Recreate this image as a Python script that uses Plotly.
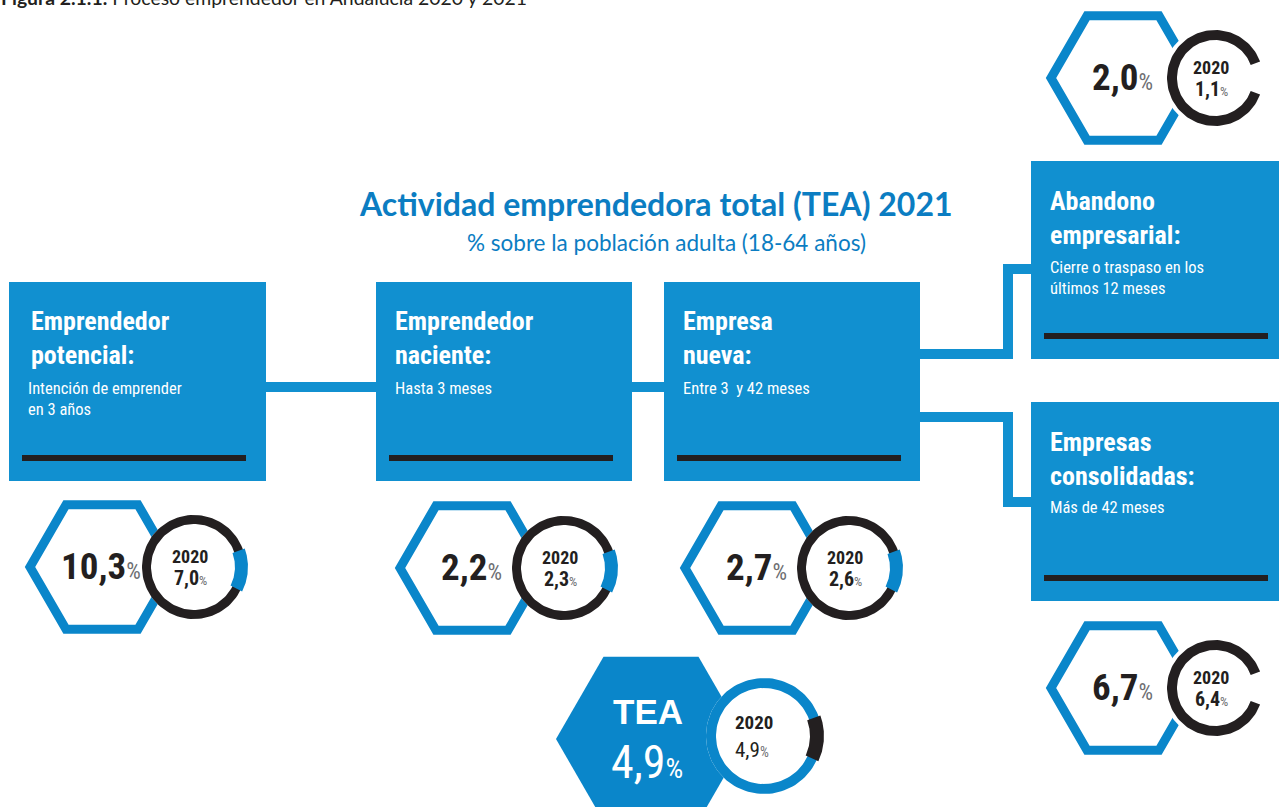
import numpy as np
import plotly.graph_objects as go

# Proceso emprendedor en Andalucía, % sobre la población adulta (18-64 años)
etapas = ["Emprendedor<br>potencial:", "Emprendedor<br>naciente:", "Empresa<br>nueva:",
          "Abandono<br>empresarial:", "Empresas<br>consolidadas:"]
descripciones = ["Intención de emprender<br>en 3 años", "Hasta 3 meses", "Entre 3  y 42 meses",
                 "Cierre o traspaso en los<br>últimos 12 meses", "Más de 42 meses"]
tasa_2021 = [10.3, 2.2, 2.7, 2.0, 6.7]
tasa_2020 = [7.0, 2.3, 2.6, 1.1, 6.4]
tea_2021 = 4.9
tea_2020 = 4.9

W, H = 1279, 807
AZUL = "#1190D0"
AZUL_HEX = "#0A86CA"
AZUL_TIT = "#0B7DC2"
NEGRO = "#231F20"
GRIS = "#6D6E71"
NARROW = "Liberation Sans Narrow, Arial Narrow, Roboto Condensed, Roboto, sans-serif"
SANS = "Lato, Open Sans, sans-serif"

# layout of the infographic (pixel coordinates, y downwards)
cajas = [(9, 282, 266, 481), (376, 282, 632, 481), (664, 282, 920, 481),
         (1031, 161, 1279, 359), (1031, 402, 1279, 601)]
titulo_xy = [(29, 338), (393, 338), (681, 338), (1048, 218), (1048, 459)]
desc_xy = [(26, 399), (393, 388), (681, 388), (1048, 278), (1048, 507)]
hex_c = [(102, 567), (472, 568), (757, 568), (1123, 78), (1123, 688)]
anillo_dx = 92


def fmt(v):
    return f"{v:.1f}".replace(".", ",")


def hexagono(cx, cy, s):
    a = np.radians(np.arange(0, 361, 60))
    return cx + s * np.cos(a), cy + s * np.sin(a)


def sector(cx, cy, r0, r1, a0, a1, n=120):
    t = np.radians(np.linspace(a0, a1, n))
    x = np.concatenate([cx + r1 * np.cos(t), cx + r0 * np.cos(t[::-1])])
    y = np.concatenate([cy - r1 * np.sin(t), cy - r0 * np.sin(t[::-1])])
    return np.append(x, x[0]), np.append(y, y[0])


fig = go.Figure()


def poligono(xy, color, line=None, lw=0):
    x, y = xy
    fig.add_trace(go.Scatter(x=x, y=y, mode="lines", fill="toself", fillcolor=color,
                             line=dict(color=line or color, width=lw),
                             hoverinfo="skip", showlegend=False))


# boxes, bars, connectors
shapes = []
for (x0, y0, x1, y1) in cajas:
    shapes.append(dict(type="rect", x0=x0, y0=y0, x1=x1, y1=y1, fillcolor=AZUL,
                       line_width=0, layer="below"))
    shapes.append(dict(type="rect", x0=x0 + 13, y0=y1 - 26, x1=x0 + 237, y1=y1 - 20,
                       fillcolor=NEGRO, line_width=0, layer="below"))

conectores = [
    f"M {cajas[0][2]} 387 L {cajas[1][0]} 387",
    f"M {cajas[1][2]} 387 L {cajas[2][0]} 387",
    f"M {cajas[2][2]} 354 L 1008 354 L 1008 269 L {cajas[3][0]} 269",
    f"M {cajas[2][2]} 417 L 1008 417 L 1008 502 L {cajas[4][0]} 502",
]
for p in conectores:
    shapes.append(dict(type="path", path=p, line=dict(color=AZUL, width=10), layer="below"))

# hexagons + rings
for i, (cx, cy) in enumerate(hex_c):
    poligono(hexagono(cx, cy, 72), "white", line=AZUL_HEX, lw=9)
    rx = cx + anillo_dx
    poligono(sector(rx, cy, 0, 52, 0, 360), "white")
    if i < 3:
        poligono(sector(rx, cy, 43, 52, 0, 360), NEGRO)
        poligono(sector(rx, cy, 41, 54, -27, 20), AZUL_HEX)
    else:
        poligono(sector(rx, cy, 38, 48, 20, 340), NEGRO)

# TEA
tcx, tcy = 651, 739
poligono(hexagono(tcx, tcy, 95), AZUL_HEX)
poligono(sector(764, 736, 0, 58, 0, 360), "white")
poligono(sector(764, 736, 48, 58, 0, 360), AZUL_HEX)
poligono(sector(764, 736, 46, 60, -25, 20), NEGRO)

ann = []


def texto(x, y, t, size, color, family=NARROW, xanchor="center"):
    ann.append(dict(x=x, y=y, xref="x", yref="y", text=t,
                    showarrow=False, xanchor=xanchor, yanchor="middle",
                    align="left" if xanchor == "left" else "center",
                    font=dict(size=size, color=color, family=family)))


for i in range(5):
    texto(titulo_xy[i][0], titulo_xy[i][1], f"<b>{etapas[i]}</b>", 26, "white", xanchor="left")
    texto(desc_xy[i][0], desc_xy[i][1], descripciones[i], 16.5, "white", xanchor="left")
    cx, cy = hex_c[i]
    texto(cx - 1, cy - 1,
          f"<b>{fmt(tasa_2021[i])}</b><span style='font-size:23px;color:{GRIS}'>%</span>",
          37, NEGRO)
    rx = cx + anillo_dx - 4
    texto(rx, cy - 11, "<b>2020</b>", 18, NEGRO)
    texto(rx, cy + 11,
          f"<b>{fmt(tasa_2020[i])}</b><span style='font-size:13px;color:{GRIS}'>%</span>",
          20, NEGRO)

texto(648, 711, "<b>TEA</b>", 35, "white", family="Liberation Sans, Arial, sans-serif")
texto(647, 762, f"{fmt(tea_2021)}<span style='font-size:28px'>%</span>", 46, "white")
texto(754, 722, "<b>2020</b>", 19, NEGRO)
texto(752, 750, f"{fmt(tea_2020)}<span style='font-size:14px;color:{GRIS}'>%</span>", 21, NEGRO)

texto(656, 203, "<b>Actividad emprendedora total (TEA) 2021</b>", 32, AZUL_TIT, family=SANS)
texto(666, 242, "% sobre la población adulta (18-64 años)", 22.5, AZUL_TIT, family=SANS)

# caption cut at the top edge of the page
ann.append(dict(x=-1 / W, y=1 + 3 / H, xref="paper", yref="paper",
                xanchor="left", yanchor="middle", showarrow=False,
                text="<b>Figura 2.1.1.</b> Proceso emprendedor en Andalucía 2020 y 2021",
                font=dict(size=19.4, color=NEGRO, family=SANS)))

fig.update_layout(
    width=W, height=H, margin=dict(l=0, r=0, t=0, b=0),
    paper_bgcolor="white", plot_bgcolor="white",
    xaxis=dict(range=[0, W], visible=False, fixedrange=True),
    yaxis=dict(range=[H, 0], visible=False, fixedrange=True),
    shapes=shapes, annotations=ann, showlegend=False,
)

fig.write_html("out.html", config={"displayModeBar": False},
               post_script="document.body.style.margin='0px';")
